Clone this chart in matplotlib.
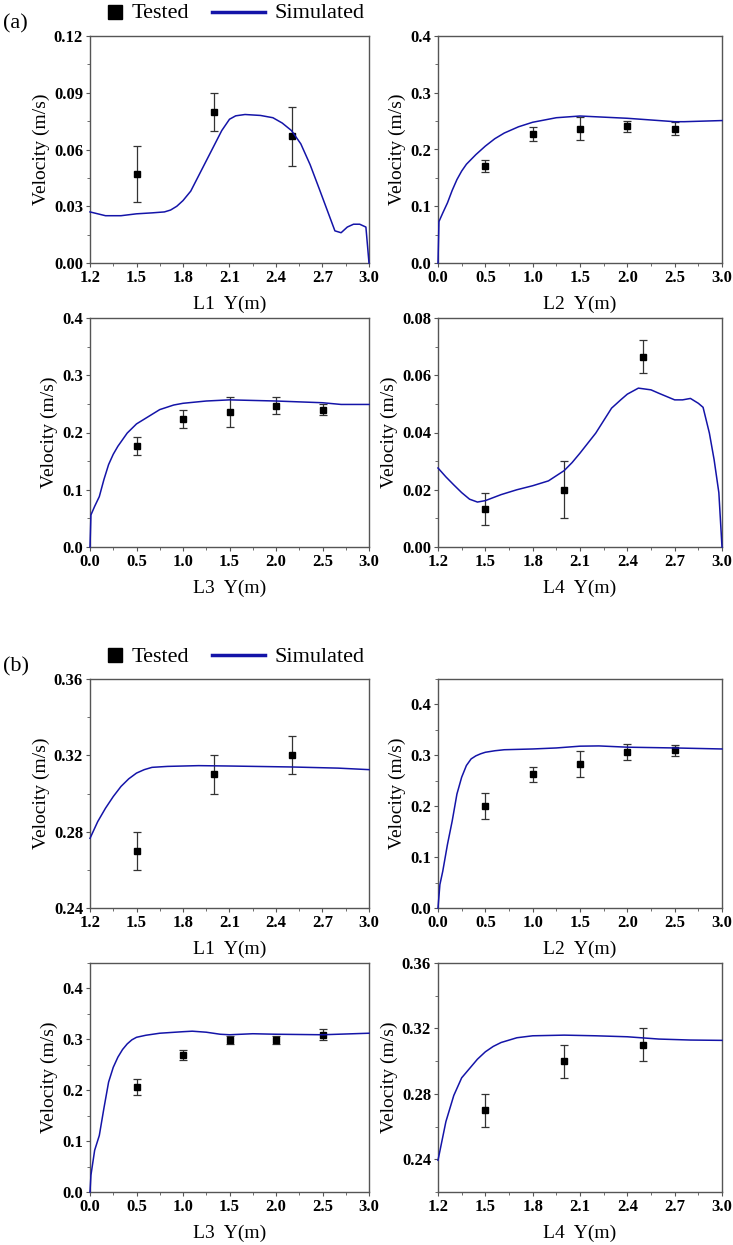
import matplotlib
matplotlib.use("Agg")
import matplotlib.pyplot as plt
from matplotlib.lines import Line2D
from matplotlib.ticker import MultipleLocator, AutoMinorLocator, FormatStrFormatter

plt.rcParams['font.family'] = ['Liberation Serif', 'DejaVu Serif']

# ---------------- data: group (a) ----------------
a1_sim_x = [1.2, 1.3, 1.4, 1.5, 1.6, 1.68, 1.72, 1.76, 1.8, 1.85, 1.9, 1.95, 2.0, 2.05, 2.1, 2.14, 2.2, 2.3, 2.38, 2.44, 2.5, 2.56, 2.62, 2.68, 2.73, 2.78, 2.82, 2.86, 2.9, 2.94, 2.98, 3.0]
a1_sim_y = [0.027, 0.025, 0.025, 0.026, 0.0265, 0.027, 0.028, 0.030, 0.033, 0.038, 0.046, 0.054, 0.062, 0.070, 0.076, 0.0778, 0.0785, 0.078, 0.0768, 0.074, 0.070, 0.063, 0.052, 0.039, 0.028, 0.017, 0.016, 0.019, 0.0205, 0.0205, 0.019, 0.0]
a1_test_x = [1.5, 2.0, 2.5]
a1_test_y = [0.047, 0.080, 0.067]
a1_err = [0.015, 0.010, 0.0155]

a2_sim_x = [0.0, 0.01, 0.05, 0.1, 0.15, 0.2, 0.25, 0.3, 0.4, 0.5, 0.6, 0.7, 0.85, 1.0, 1.25, 1.5, 1.75, 2.0, 2.25, 2.5, 2.6, 2.8, 3.0]
a2_sim_y = [0.0, 0.073, 0.088, 0.106, 0.128, 0.147, 0.162, 0.174, 0.191, 0.206, 0.219, 0.229, 0.240, 0.248, 0.256, 0.259, 0.257, 0.255, 0.252, 0.249, 0.249, 0.250, 0.251]
a2_test_x = [0.5, 1.0, 1.5, 2.0, 2.5]
a2_test_y = [0.171, 0.227, 0.237, 0.241, 0.237]
a2_err = [0.010, 0.012, 0.020, 0.010, 0.011]

a3_sim_x = [0.0, 0.01, 0.05, 0.1, 0.15, 0.2, 0.25, 0.3, 0.4, 0.5, 0.6, 0.75, 0.9, 1.0, 1.25, 1.5, 1.75, 2.0, 2.5, 2.7, 3.0]
a3_sim_y = [0.0, 0.056, 0.071, 0.088, 0.118, 0.144, 0.162, 0.176, 0.199, 0.215, 0.225, 0.240, 0.248, 0.251, 0.255, 0.257, 0.256, 0.255, 0.252, 0.249, 0.249]
a3_test_x = [0.5, 1.0, 1.5, 2.0, 2.5]
a3_test_y = [0.177, 0.223, 0.236, 0.247, 0.240]
a3_err = [0.0155, 0.016, 0.026, 0.015, 0.010]

a4_sim_x = [1.2, 1.25, 1.3, 1.35, 1.4, 1.45, 1.5, 1.6, 1.7, 1.8, 1.9, 2.0, 2.05, 2.1, 2.2, 2.3, 2.36, 2.4, 2.47, 2.55, 2.6, 2.7, 2.75, 2.8, 2.85, 2.88, 2.92, 2.95, 2.98, 3.0]
a4_sim_y = [0.0276, 0.0245, 0.0217, 0.019, 0.0167, 0.0157, 0.0162, 0.0183, 0.020, 0.0214, 0.0231, 0.0267, 0.0295, 0.0328, 0.0398, 0.0485, 0.0515, 0.0534, 0.0555, 0.0549, 0.0537, 0.0514, 0.0514, 0.0519, 0.0502, 0.0488, 0.0398, 0.0305, 0.019, 0.0]
a4_test_x = [1.5, 2.0, 2.5]
a4_test_y = [0.0133, 0.020, 0.0665]
a4_err = [0.0057, 0.010, 0.0057]

# ---------------- data: group (b) ----------------
b1_sim_x = [1.2, 1.25, 1.3, 1.35, 1.4, 1.45, 1.5, 1.55, 1.6, 1.7, 1.9, 2.1, 2.5, 2.8, 3.0]
b1_sim_y = [0.2765, 0.2853, 0.2923, 0.2984, 0.3037, 0.3077, 0.3107, 0.3125, 0.3137, 0.3142, 0.3146, 0.3144, 0.3139, 0.3133, 0.3125]
b1_test_x = [1.5, 2.0, 2.5]
b1_test_y = [0.270, 0.310, 0.320]
b1_err = [0.010, 0.010, 0.010]

b2_sim_x = [0.0, 0.02, 0.05, 0.1, 0.15, 0.2, 0.25, 0.3, 0.35, 0.4, 0.45, 0.5, 0.6, 0.7, 1.0, 1.25, 1.5, 1.7, 2.0, 2.5, 3.0]
b2_sim_y = [0.0, 0.046, 0.072, 0.125, 0.171, 0.224, 0.257, 0.280, 0.293, 0.299, 0.303, 0.306, 0.309, 0.311, 0.3125, 0.3145, 0.318, 0.3185, 0.316, 0.3145, 0.3125]
b2_test_x = [0.5, 1.0, 1.5, 2.0, 2.5]
b2_test_y = [0.200, 0.263, 0.283, 0.306, 0.310]
b2_err = [0.026, 0.015, 0.025, 0.016, 0.011]

b3_sim_x = [0.0, 0.01, 0.05, 0.1, 0.15, 0.2, 0.25, 0.3, 0.35, 0.4, 0.45, 0.5, 0.6, 0.75, 1.0, 1.1, 1.25, 1.4, 1.5, 1.75, 2.0, 2.5, 3.0]
b3_sim_y = [0.0, 0.033, 0.082, 0.111, 0.165, 0.216, 0.245, 0.265, 0.280, 0.291, 0.299, 0.304, 0.308, 0.312, 0.315, 0.316, 0.314, 0.310, 0.309, 0.311, 0.310, 0.309, 0.312]
b3_test_x = [0.5, 1.0, 1.5, 2.0, 2.5]
b3_test_y = [0.2065, 0.269, 0.299, 0.299, 0.309]
b3_err = [0.016, 0.010, 0.008, 0.008, 0.0105]

b4_sim_x = [1.2, 1.25, 1.3, 1.35, 1.4, 1.45, 1.5, 1.55, 1.6, 1.7, 1.8, 2.0, 2.2, 2.4, 2.6, 2.8, 3.0]
b4_sim_y = [0.2394, 0.263, 0.279, 0.2898, 0.2955, 0.3012, 0.3057, 0.309, 0.3114, 0.3143, 0.3155, 0.3159, 0.3155, 0.3149, 0.3135, 0.3129, 0.3127]
b4_test_x = [1.5, 2.0, 2.5]
b4_test_y = [0.270, 0.300, 0.310]
b4_err = [0.010, 0.010, 0.010]

xlabels = ["L1  Y(m)", "L2  Y(m)", "L3  Y(m)", "L4  Y(m)"]
group_labels = ["(a)", "(b)"]
legend_labels = ["Tested", "Simulated"]

# ---------------- layout ----------------
W, H = 733, 1245
fig = plt.figure(figsize=(W / 100, H / 100), dpi=100)

SIM_COLOR = '#1414a8'
SPINE_COLOR = '#555555'

def add_ax(left, right, top, bottom):
    return fig.add_axes([left / W, 1 - bottom / H, (right - left) / W, (bottom - top) / H])

panels = [
    ((90, 369, 36, 263), a1_sim_x, a1_sim_y, a1_test_x, a1_test_y, a1_err, (1.2, 3.0), (0, 0.12), 0.03, '%.2f', 0.3, xlabels[0]),
    ((438, 722, 36, 263), a2_sim_x, a2_sim_y, a2_test_x, a2_test_y, a2_err, (0, 3.0), (0, 0.4), 0.1, '%.1f', 0.5, xlabels[1]),
    ((90, 369, 318, 547), a3_sim_x, a3_sim_y, a3_test_x, a3_test_y, a3_err, (0, 3.0), (0, 0.4), 0.1, '%.1f', 0.5, xlabels[2]),
    ((438, 722, 318, 547), a4_sim_x, a4_sim_y, a4_test_x, a4_test_y, a4_err, (1.2, 3.0), (0, 0.08), 0.02, '%.2f', 0.3, xlabels[3]),
    ((90, 369, 679, 908), b1_sim_x, b1_sim_y, b1_test_x, b1_test_y, b1_err, (1.2, 3.0), (0.24, 0.36), 0.04, '%.2f', 0.3, xlabels[0]),
    ((438, 722, 679, 908), b2_sim_x, b2_sim_y, b2_test_x, b2_test_y, b2_err, (0, 3.0), (0, 0.45), 0.1, '%.1f', 0.5, xlabels[1]),
    ((90, 369, 963, 1192), b3_sim_x, b3_sim_y, b3_test_x, b3_test_y, b3_err, (0, 3.0), (0, 0.45), 0.1, '%.1f', 0.5, xlabels[2]),
    ((438, 722, 963, 1192), b4_sim_x, b4_sim_y, b4_test_x, b4_test_y, b4_err, (1.2, 3.0), (0.22, 0.36), 0.04, '%.2f', 0.3, xlabels[3]),
]

for box, sx, sy, tx, ty, err, xlim, ylim, ymaj, yfmt, xmaj, xl in panels:
    ax = add_ax(*box)
    ax.plot(sx, sy, color=SIM_COLOR, lw=1.1, zorder=4, clip_on=False)
    ax.errorbar(tx, ty, yerr=err, fmt='s', color='black', markersize=4,
                ecolor='#333333', elinewidth=0.9, capsize=3, capthick=0.9, zorder=3)
    ax.set_xlim(*xlim)
    ax.set_ylim(*ylim)
    ax.xaxis.set_major_locator(MultipleLocator(xmaj))
    ax.xaxis.set_minor_locator(AutoMinorLocator(2))
    ax.yaxis.set_major_locator(MultipleLocator(ymaj))
    ax.yaxis.set_minor_locator(AutoMinorLocator(2))
    ax.xaxis.set_major_formatter(FormatStrFormatter('%.1f'))
    ax.yaxis.set_major_formatter(FormatStrFormatter(yfmt))
    for s in ax.spines.values():
        s.set_color(SPINE_COLOR)
        s.set_linewidth(1.0)
    ax.tick_params(which='major', direction='out', length=3, width=0.8, color=SPINE_COLOR,
                   top=False, right=False, pad=2)
    ax.tick_params(which='minor', direction='out', length=2, width=0.6, color=SPINE_COLOR,
                   top=False, right=False)
    for lab in ax.get_xticklabels() + ax.get_yticklabels():
        lab.set_fontweight('bold')
        lab.set_fontsize(12)
    ax.set_xlabel(xl, fontsize=14, labelpad=7)
    ax.set_ylabel("Velocity (m/s)", fontsize=14, labelpad=3)

# legends and group labels, drawn in figure pixel coordinates
def fx(px):
    return px / W

def fy(py):
    return 1 - py / H

for gl, ycen in zip(group_labels, [12, 655]):
    fig.add_artist(Line2D([fx(115)], [fy(ycen)], marker='s', color='black',
                          markersize=9.5, linestyle='none', transform=fig.transFigure))
    fig.text(fx(132), fy(ycen + 2), legend_labels[0], fontsize=16, va='center', ha='left')
    fig.add_artist(Line2D([fx(212), fx(265)], [fy(ycen), fy(ycen)], color=SIM_COLOR,
                          lw=2.5, transform=fig.transFigure))
    fig.text(fx(274), fy(ycen + 2), legend_labels[1], fontsize=16, va='center', ha='left')
    fig.text(fx(3), fy(ycen + 12), gl, fontsize=16, va='center', ha='left')

fig.savefig('out.png', dpi=100)
